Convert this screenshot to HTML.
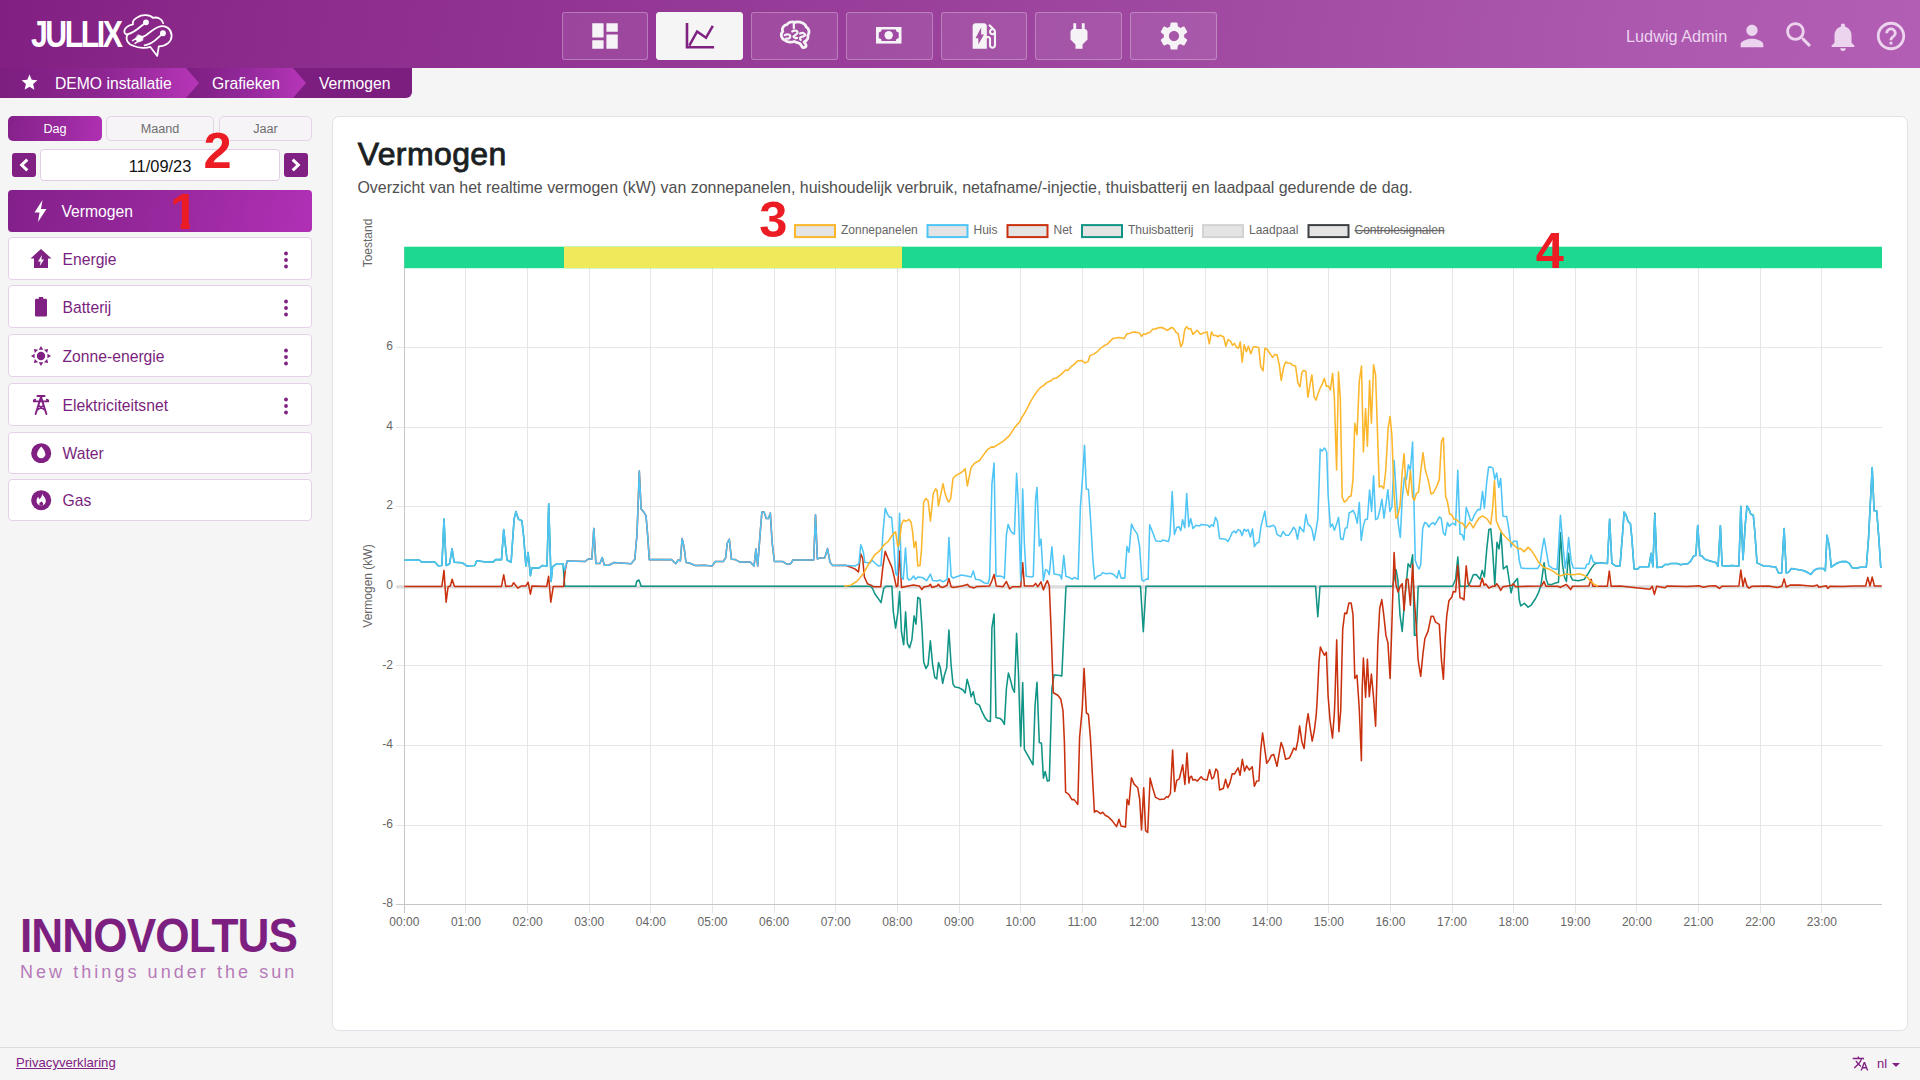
<!DOCTYPE html>
<html lang="nl">
<head>
<meta charset="utf-8">
<title>JULLIX - Vermogen</title>
<style>
*{box-sizing:border-box;margin:0;padding:0}
html,body{width:1920px;height:1080px;overflow:hidden;background:#f5f5f5;font-family:"Liberation Sans",sans-serif;color:#212529}
.abs{position:absolute}
svg{display:block}
/* ---------- header ---------- */
#hdr{position:absolute;left:0;top:0;width:1920px;height:68px;background:linear-gradient(100deg,#812082 0%,#892889 9.400%,#923493 29%,#a14ba3 64.600%,#ad58af 84.400%,#b25eb4 100%)}
#logo{position:absolute;left:31px;top:13.300px;height:44px;color:#fff;font-weight:bold;font-size:36.500px;letter-spacing:-3px;line-height:44px;transform-origin:0 0;transform:scaleX(.83)}
.nb{position:absolute;top:12px;width:87px;height:48px;border:1px solid rgba(255,255,255,.28);border-radius:3px;background:rgba(255,255,255,.085)}
.nb.act{background:#f5f5f5;border-color:#f5f5f5}
.nb svg{position:absolute;left:50%;top:50%;transform:translate(-50%,-50%)}
#user{position:absolute;left:1626px;top:26px;font-size:16.27px;color:#ecd3ee;line-height:20px;white-space:nowrap}
/* ---------- breadcrumb ---------- */
#bc{position:absolute;left:0;top:68px;height:30px;width:412px}
#bc .t{position:absolute;top:.5px;height:29px;line-height:29px;color:#fff;font-size:15.7px;white-space:nowrap}
/* ---------- sidebar ---------- */
.tab{position:absolute;top:116px;height:25px;border-radius:5px;font-size:12.65px;line-height:24px;text-align:center;border:1px solid #e6d3e9;color:#6e6e6e;background:#f6f4f6}
.tab.act{background:linear-gradient(100deg,#85218a 0%,#9b2aa0 60%,#b030b3 100%);border:none;color:#fff;line-height:27px}
.arr{position:absolute;top:153px;width:24px;height:24px;border-radius:3px;background:#7f2082}
#date{position:absolute;left:40px;top:149px;width:240px;height:32px;border:1px solid #e3cde6;border-radius:4px;background:#fff;text-align:center;font-size:16.4px;line-height:33px;color:#111}
.mi{position:absolute;left:8px;width:304px;border:1px solid #e6d0e9;border-radius:4px;background:#fff;color:#7a1f7d;font-size:15.7px}
.mi.act{background:linear-gradient(100deg,#83208a 0%,#95279b 45%,#b030b5 100%);border:none;color:#fff}
.mi .lbl{position:absolute;left:53.5px;top:.7px;white-space:nowrap}
.mi .ic{position:absolute}
.mi .dots{position:absolute;left:273px;width:8px}
.red{position:absolute;color:#ec1c24;font-weight:bold;font-size:50.600px;line-height:51px;font-family:"Liberation Sans",sans-serif}
/* ---------- main ---------- */
#main{position:absolute;left:332px;top:116px;width:1576px;height:915px;background:#fff;border:1px solid #dfe2e8;border-radius:7px}
#h1{position:absolute;left:357.700px;top:134px;font-size:32px;font-weight:normal;-webkit-text-stroke:.85px #1b1f23;letter-spacing:.4px;line-height:40px;color:#1b1f23;white-space:nowrap}
#desc{position:absolute;left:357.400px;top:177.800px;font-size:15.96px;line-height:20px;color:#505050;white-space:nowrap}
/* ---------- footer ---------- */
#ftl{position:absolute;left:0;top:1047px;width:1920px;height:1px;background:#dcdcdc}
#priv{position:absolute;left:16px;top:1055px;font-size:13.1px;line-height:16px;color:#7f2082;text-decoration:underline}
#lang{position:absolute;left:1877px;top:1056.300px;font-size:13px;line-height:16px;color:#7f2082}
#inno{position:absolute;left:20px;top:908.700px;color:#7d1f80;font-weight:bold;white-space:nowrap;font-size:47.5px;line-height:54px;letter-spacing:-1px;transform-origin:0 0;transform:scaleX(.93)}
#inno2{position:absolute;left:20px;top:960.500px;color:#b57ab8;white-space:nowrap;font-size:18px;line-height:22px;letter-spacing:3.05px}
</style>
</head>
<body>
<div id="hdr">
  <div id="logo">JULLIX</div>
  <!-- brain/cloud logo mark -->
  <svg class="abs" style="left:123.100px;top:13.900px" width="49.700" height="42.700" viewBox="1100 95 530 455" fill="none" stroke="#fff" stroke-width="19" stroke-linecap="round" stroke-linejoin="round">
    <path d="M1528 192C1518 150 1468 122 1420 136C1388 100 1300 96 1256 130C1216 150 1200 180 1206 206C1150 216 1106 252 1116 290C1122 310 1136 316 1152 310C1200 300 1250 262 1292 226L1330 196"/>
    <path d="M1150 314C1120 360 1150 420 1216 436C1270 460 1350 460 1392 446L1465 542L1482 440C1560 438 1624 390 1618 320C1614 252 1560 216 1500 226C1440 236 1400 282 1350 318L1300 344"/>
    <path d="M1508 318L1478 344C1440 382 1384 420 1330 430"/>
    <circle cx="1345" cy="184" r="31" fill="#fff" stroke="none"/>
    <circle cx="1526" cy="300" r="31" fill="#fff" stroke="none"/>
    <path d="M1262 318l52 18-4 40-42 18-36-28z" fill="#fff" stroke="#fff" stroke-width="8"/>
    <path d="M1246 352l-44 26M1268 382l-40 26" stroke-width="15"/>
  </svg>
  <!-- nav buttons -->
  <div class="nb" style="left:562px;width:86px"><svg style="margin-left:-.5px" width="34" height="34" viewBox="0 0 24 24" fill="#f5f3f5"><path d="M3 13h8V3H3v10zm0 8h8v-6H3v6zm10 0h8V11h-8v10zm0-18v6h8V3h-8z"/></svg></div>
  <div class="nb act" style="left:656px"><svg style="left:28px;top:9px;transform:none" width="30" height="28" viewBox="0 0 30 28" fill="none" stroke="#7f2082" stroke-width="2.600" stroke-linejoin="miter"><path d="M2 .900V25.200H29.100"/><path d="M4.300 23.600L12.100 9.500 21 15.800 27.800 3.800" stroke-width="2.500"/></svg></div>
  <div class="nb" style="left:751px"><svg style="left:26.750px;top:7.300px;transform:none" width="31.900" height="30" viewBox="200 110 340 320" fill="none" stroke="#f5f3f5" stroke-width="30" stroke-linecap="round" stroke-linejoin="round"><path d="M372 134C330 120 292 140 286 160C250 160 226 200 240 232C212 262 224 312 262 326C290 352 340 350 362 338C384 350 410 352 424 362L448 398C470 414 496 396 486 372L468 344C500 330 516 300 506 276C530 246 520 196 490 184C484 150 430 122 372 134z"/><path d="M358 140v56M262 272c20-14 52-12 58 10c4 20-20 32-44 26M342 232c20-16 56-10 56 12c0 20-30 22-44 44c12 16 30 18 40 12M424 254c22-12 52-6 54 14c0 18-28 20-46 24c-10 10-10 22 0 30" stroke-width="24"/></svg></div>
  <div class="nb" style="left:846px"><svg style="left:29.100px;top:14.300px;transform:none" width="25.500" height="16.600" viewBox="0 0 25.500 16.600"><rect width="25.500" height="16.600" fill="#f5f3f5"/><path d="M5.600 2.600H19.900A2.800 2.800 0 0 0 22.700 5.400V11.200A2.800 2.800 0 0 0 19.900 14H5.600A2.800 2.800 0 0 0 2.800 11.200V5.400A2.800 2.800 0 0 0 5.600 2.600z" fill="#a04aa3"/><circle cx="12.700" cy="8.300" r="4.200" fill="#f5f3f5"/></svg></div>
  <div class="nb" style="left:941px;width:86px"><svg width="34" height="34" viewBox="0 0 24 24" fill="#f5f3f5"><path d="M19.770 7.230l.01-.010-3.720-3.720L15 4.560l2.110 2.110c-.94.36-1.610 1.260-1.610 2.330 0 1.380 1.120 2.500 2.500 2.500.36 0 .69-.08 1-.21v7.210c0 .55-.45 1-1 1s-1-.45-1-1V14c0-1.100-.9-2-2-2h-1V5c0-1.100-.9-2-2-2H6c-1.100 0-2 .9-2 2v16h10v-7.500h1.500v5c0 1.380 1.120 2.500 2.500 2.500s2.500-1.120 2.500-2.500V9c0-.69-.28-1.320-.73-1.770zM18 10c-.55 0-1-.45-1-1s.45-1 1-1 1 .45 1 1-.45 1-1 1zM8 18v-4.500H6L10 6v5h2l-4 7z"/></svg></div>
  <div class="nb" style="left:1035px"><svg width="34" height="34" viewBox="0 0 24 24" fill="#f5f3f5"><path d="M16.010 7L16 3h-2v4h-4V3H8v4h-.010C7 6.990 6 7.990 6 8.990v5.490L9.500 18v3h5v-3l3.500-3.510v-5.500c0-1-1-2-1.990-1.990z"/></svg></div>
  <div class="nb" style="left:1130px"><svg width="34" height="34" viewBox="0 0 24 24" fill="#f5f3f5"><path d="M19.140 12.940c.04-.3.06-.61.06-.94 0-.32-.02-.64-.07-.94l2.030-1.580c.18-.14.23-.41.12-.61l-1.920-3.320c-.12-.22-.37-.29-.59-.22l-2.390.96c-.5-.38-1.030-.7-1.620-.94l-.36-2.540c-.04-.24-.24-.41-.48-.41h-3.840c-.24 0-.43.17-.47.41l-.36 2.540c-.59.24-1.130.57-1.620.94l-2.390-.96c-.22-.08-.47 0-.59.22L2.740 8.870c-.12.21-.08.47.12.61l2.030 1.580c-.05.3-.09.63-.09.94s.02.64.07.94l-2.030 1.580c-.18.14-.23.41-.12.61l1.920 3.320c.12.22.37.29.59.22l2.390-.96c.5.38 1.030.7 1.620.94l.36 2.540c.05.24.24.41.48.41h3.840c.24 0 .44-.17.47-.41l.36-2.540c.59-.24 1.130-.56 1.620-.94l2.390.96c.22.08.47 0 .59-.22l1.920-3.320c.12-.22.07-.47-.12-.61l-2.010-1.580zM12 15.600c-1.980 0-3.600-1.620-3.600-3.600s1.620-3.600 3.600-3.600 3.600 1.620 3.600 3.600-1.620 3.600-3.600 3.600z"/></svg></div>
  <!-- right side -->
  <div id="user">Ludwig Admin</div>
  <svg class="abs" style="left:1735px;top:19px" width="34" height="34" viewBox="0 0 24 24" fill="#ecd3ee"><path d="M12 12c2.210 0 4-1.790 4-4s-1.790-4-4-4-4 1.790-4 4 1.790 4 4 4zm0 2c-2.670 0-8 1.340-8 4v2h16v-2c0-2.660-5.330-4-8-4z"/></svg>
  <svg class="abs" style="left:1782px;top:18px" width="34" height="34" viewBox="0 0 24 24" fill="#ecd3ee"><path d="M15.500 14h-.79l-.28-.27C15.410 12.590 16 11.110 16 9.500 16 5.910 13.090 3 9.500 3S3 5.910 3 9.500 5.910 16 9.500 16c1.610 0 3.090-.59 4.230-1.570l.27.28v.79l5 4.990L20.490 19l-4.990-5zm-6 0C7.010 14 5 11.990 5 9.500S7.010 5 9.500 5 14 7.010 14 9.500 11.990 14 9.500 14z"/></svg>
  <svg class="abs" style="left:1826px;top:20px" width="34" height="34" viewBox="0 0 24 24" fill="#ecd3ee"><path d="M12 22c1.100 0 2-.9 2-2h-4c0 1.100.89 2 2 2zm6-6v-5c0-3.070-1.640-5.640-4.500-6.320V4c0-.83-.67-1.500-1.500-1.500s-1.500.67-1.500 1.500v.68C7.630 5.360 6 7.920 6 11v5l-2 2v1h16v-1l-2-2z"/></svg>
  <svg class="abs" style="left:1874px;top:19px" width="34" height="34" viewBox="0 0 24 24" fill="#ecd3ee"><path d="M11 18h2v-2h-2v2zm1-16C6.480 2 2 6.480 2 12s4.480 10 10 10 10-4.480 10-10S17.520 2 12 2zm0 18c-4.410 0-8-3.590-8-8s3.590-8 8-8 8 3.590 8 8-3.590 8-8 8zm0-14c-2.210 0-4 1.790-4 4h2c0-1.100.9-2 2-2s2 .9 2 2c0 2-3 1.750-3 5h2c0-2.250 3-2.500 3-5 0-2.210-1.790-4-4-4z"/></svg>
</div>

<div id="bc">
  <svg class="abs" style="left:0;top:0" width="412" height="30" viewBox="0 0 412 30">
    <defs>
      <linearGradient id="bg1" x1="0" x2="1" y1="0" y2="0"><stop offset="0" stop-color="#7c1e7f"/><stop offset=".55" stop-color="#8f2693"/><stop offset="1" stop-color="#b636b8"/></linearGradient>
      <linearGradient id="bg2" x1="0" x2="1" y1="0" y2="0"><stop offset="0" stop-color="#7c1e7f"/><stop offset=".5" stop-color="#93289a"/><stop offset="1" stop-color="#b636b8"/></linearGradient>
    </defs>
    <path d="M0 0H412V24a6 6 0 0 1-6 6H0z" fill="#7c1e7f"/>
    <path d="M184 0H293l13 15-13 15H184z" fill="url(#bg2)"/>
    <path d="M0 0H186l13 15-13 15H0z" fill="url(#bg1)"/>
  </svg>
  <svg class="abs" style="left:20.200px;top:5.400px" width="19" height="19" viewBox="0 0 24 24" fill="#fff"><path d="M12 17.270L18.180 21l-1.640-7.030L22 9.240l-7.190-.61L12 2 9.190 8.630 2 9.240l5.460 4.730L5.820 21z"/></svg>
  <div class="t" id="bc1" style="left:55px">DEMO installatie</div>
  <div class="t" id="bc2" style="left:212px">Grafieken</div>
  <div class="t" id="bc3" style="left:319px">Vermogen</div>
</div>

<div class="tab act" style="left:8px;width:94px">Dag</div>
<div class="tab" style="left:106px;width:108px">Maand</div>
<div class="tab" style="left:219px;width:93px">Jaar</div>
<div class="arr" style="left:12px"><svg width="24" height="24" viewBox="0 0 24 24" fill="none" stroke="#fff" stroke-width="3" stroke-linecap="butt"><path d="M15.300 6.700l-5.600 5.300 5.600 5.300"/></svg></div>
<div id="date">11/09/23</div>
<div class="arr" style="left:284px"><svg width="24" height="24" viewBox="0 0 24 24" fill="none" stroke="#fff" stroke-width="3" stroke-linecap="butt"><path d="M8.700 6.700l5.600 5.300-5.600 5.300"/></svg></div>

<div class="mi act" style="top:190px;height:42px;line-height:42px">
  <svg class="ic" style="left:22px;top:9px" width="22" height="24" viewBox="0 0 22 24" fill="#fff"><path d="M12.500 1L4.500 13.500h5L8 23l8.500-13h-5.500z"/></svg>
  <span class="lbl">Vermogen</span>
</div>
<div class="mi" style="top:237px;height:43px;line-height:41px">
  <svg class="ic" style="left:20px;top:10px" width="24" height="22" viewBox="0 0 24 22" fill="#7f2082"><path d="M12 1L1.500 10.500H5V20h14v-9.500h3.500z"/><path d="M13 7l-4 6.500h2.600l-.8 4.500 4.200-6.500h-2.700z" fill="#fff"/></svg>
  <span class="lbl">Energie</span>
  <svg class="dots" style="top:12.500px" height="18" viewBox="0 0 8 18" fill="#7f2082"><circle cx="4" cy="2.500" r="1.900"/><circle cx="4" cy="9" r="1.900"/><circle cx="4" cy="15.500" r="1.900"/></svg>
</div>
<div class="mi" style="top:285.300px;height:43px;line-height:41px">
  <svg class="ic" style="left:26px;top:10.600px" width="12" height="20" viewBox="0 0 14 22" preserveAspectRatio="none" fill="#7f2082"><path d="M4.500 0h5v2H12.500a1.500 1.500 0 0 1 1.500 1.500V20a1.500 1.500 0 0 1-1.500 1.500H1.500A1.500 1.500 0 0 1 0 20V3.500A1.500 1.500 0 0 1 1.500 2H4.500z"/></svg>
  <span class="lbl">Batterij</span>
  <svg class="dots" style="top:12.500px" height="18" viewBox="0 0 8 18" fill="#7f2082"><circle cx="4" cy="2.500" r="1.900"/><circle cx="4" cy="9" r="1.900"/><circle cx="4" cy="15.500" r="1.900"/></svg>
</div>
<div class="mi" style="top:334.200px;height:43px;line-height:41px">
  <svg class="ic" style="left:22px;top:11px" width="20" height="20" viewBox="0 0 22 22" fill="#7f2082"><circle cx="11" cy="11" r="4.600"/><path d="M11 0l2.500 4h-5zM11 22l2.500-4h-5zM0 11l4-2.500v5zM22 11l-4-2.500v5zM3.200 3.200l4.600 1-3.600 3.600zM18.800 3.200l-4.600 1 3.600 3.600zM3.200 18.800l4.600-1-3.600-3.600zM18.800 18.800l-4.600-1 3.600-3.600z"/></svg>
  <span class="lbl">Zonne-energie</span>
  <svg class="dots" style="top:12.500px" height="18" viewBox="0 0 8 18" fill="#7f2082"><circle cx="4" cy="2.500" r="1.900"/><circle cx="4" cy="9" r="1.900"/><circle cx="4" cy="15.500" r="1.900"/></svg>
</div>
<div class="mi" style="top:383.100px;height:43px;line-height:41px">
  <svg class="ic" style="left:23px;top:10px" width="18" height="22" viewBox="0 0 20 24" fill="none" stroke="#7f2082" stroke-width="2.100" stroke-linecap="round" stroke-linejoin="round"><path d="M4 22L10 3l6 19M6 2h8M2 8h16M2 8c0-1 .5-2 1.500-2M18 8c0-1-.5-2-1.500-2M7 12.500l7.500 5M13 12.500l-7.500 5"/></svg>
  <span class="lbl">Elektriciteitsnet</span>
  <svg class="dots" style="top:12.500px" height="18" viewBox="0 0 8 18" fill="#7f2082"><circle cx="4" cy="2.500" r="1.900"/><circle cx="4" cy="9" r="1.900"/><circle cx="4" cy="15.500" r="1.900"/></svg>
</div>
<div class="mi" style="top:432px;height:41.500px;line-height:40px">
  <svg class="ic" style="left:22.200px;top:10px" width="20.400" height="20.400" viewBox="0 0 21 21"><circle cx="10.500" cy="10.500" r="10.300" fill="#7f2082"/><path d="M10.500 3.500c2.500 3 4.300 5.500 4.300 8a4.300 4.300 0 0 1-8.600 0c0-2.500 1.800-5 4.300-8z" fill="#fff"/></svg>
  <span class="lbl">Water</span>
</div>
<div class="mi" style="top:479.300px;height:41.500px;line-height:40px">
  <svg class="ic" style="left:22.200px;top:10px" width="20.400" height="20.400" viewBox="0 0 21 21"><circle cx="10.500" cy="10.500" r="10.300" fill="#7f2082"/><path d="M11.500 3.500c.3 2.500 3.800 4 3.800 7.800a4.800 4.800 0 0 1-9.600 0c0-1.800.8-3.200 2-4.300c0 1.200.4 2 1.200 2.300c1.600-1.500 2.600-3.300 2.600-5.800z" fill="#fff"/><path d="M10.600 11.500c1.200 1 1.900 1.700 1.900 2.800a1.950 1.950 0 0 1-3.900 0c0-.9.500-1.400 1-1.700c.5 0 .9-.4 1-1.100z" fill="#7f2082"/></svg>
  <span class="lbl">Gas</span>
</div>

<div class="red" id="r2" style="left:203.500px;top:125px">2</div>
<div class="red" id="r1" style="left:169.900px;top:185.500px;clip-path:polygon(0 0,31px 0,31px 36.700px,19.700px 36.700px,19.700px 51px,10.800px 51px,10.800px 36.700px,0 36.700px)">1</div>

<div id="inno">INNOVOLTUS</div>
<div id="inno2">New things under the sun</div>

<div id="main"></div>
<div id="h1">Vermogen</div>
<div id="desc">Overzicht van het realtime vermogen (kW) van zonnepanelen, huishoudelijk verbruik, netafname/-injectie, thuisbatterij en laadpaal gedurende de dag.</div>
<svg class="abs" style="left:0;top:0" width="1920" height="1080" viewBox="0 0 1920 1080" font-family="Liberation Sans, sans-serif" font-size="12" fill="#666">
<path d="M404.3 267.9V912.7M465.9 267.9V912.7M527.6 267.9V912.7M589.2 267.9V912.7M650.8 267.9V912.7M712.5 267.9V912.7M774.1 267.9V912.7M835.7 267.9V912.7M897.3 267.9V912.7M959.0 267.9V912.7M1020.6 267.9V912.7M1082.2 267.9V912.7M1143.9 267.9V912.7M1205.5 267.9V912.7M1267.1 267.9V912.7M1328.8 267.9V912.7M1390.4 267.9V912.7M1452.0 267.9V912.7M1513.6 267.9V912.7M1575.3 267.9V912.7M1636.9 267.9V912.7M1698.5 267.9V912.7M1760.2 267.9V912.7M1821.8 267.9V912.7" stroke="#e6e6e6" stroke-width="1" fill="none" shape-rendering="crispEdges"/>
<path d="M396.3 904.7H1882.0M396.3 825.1H1882.0M396.3 745.5H1882.0M396.3 665.9H1882.0M396.3 586.3H1882.0M396.3 506.7H1882.0M396.3 427.1H1882.0M396.3 347.5H1882.0" stroke="#e6e6e6" stroke-width="1" fill="none" shape-rendering="crispEdges"/>
<path d="M396.3 586.8H1882.0" stroke="#dcdcdc" stroke-width="3.200" fill="none"/>
<path d="M404.3 247V912.7M396.3 904.7H1882.0" stroke="#c6c6c6" stroke-width="1" fill="none" shape-rendering="crispEdges"/>
<rect x="404.3" y="246.7" width="1477.7" height="21.5" fill="#1cd98f"/>
<rect x="564" y="246.7" width="338" height="21.5" fill="#efe95b"/>
<path d="M404.3,560.3 404.9,560.3 419.3,560.0 421.5,561.9 434.8,561.9 438.2,565.8 441.9,565.5 444.0,519.0 446.2,565.5 449.6,563.7 452.1,548.9 454.1,562.2 462.2,562.7 466.7,565.9 474.8,565.5 476.7,560.7 485.9,561.9 493.3,561.9 495.6,559.6 501.5,559.6 503.7,529.6 507.0,560.0 511.1,562.2 514.1,519.3 515.9,511.6 518.5,519.3 521.9,520.7 523.7,537.0 525.9,565.9 528.1,552.6 530.4,575.6 531.9,567.9 539.3,567.9 542.2,565.5 547.0,565.9 548.7,503.7 551.1,581.5 552.6,566.7 557.0,563.7 563.0,563.7 564.7,586.3 635.6,586.3 636.7,581.5 638.9,580.0 640.1,583.0 641.1,586.3 870.4,586.3 872.6,588.5 874.8,593.7 878.5,598.9 881.0,602.6 883.7,588.5 885.9,586.3 891.9,586.3 893.3,611.5 895.6,628.1 897.8,613.0 899.6,591.5 901.5,632.2 903.7,644.8 905.6,611.9 907.4,643.3 909.6,647.8 911.9,639.6 914.1,615.9 916.0,624.1 917.8,597.4 920.0,598.9 921.9,626.3 923.7,661.9 925.9,668.5 928.1,664.8 930.4,640.8 932.6,664.8 934.8,677.4 936.7,678.9 938.5,662.6 940.3,667.8 942.7,683.3 944.4,675.2 946.7,667.8 948.9,630.0 951.1,664.8 953.0,684.1 955.1,687.0 959.3,687.8 963.0,690.0 965.2,693.0 967.1,679.3 969.3,687.0 971.1,696.7 973.3,691.8 975.6,703.3 979.3,705.1 982.2,712.2 985.2,718.1 988.1,721.1 990.4,721.4 991.9,627.8 994.1,614.1 996.0,717.4 1000.0,718.4 1002.2,720.4 1004.4,724.4 1006.4,688.5 1008.4,673.0 1010.4,679.6 1012.6,688.5 1014.4,692.2 1016.6,633.4 1018.5,673.7 1020.7,746.3 1022.7,682.6 1024.4,749.3 1028.9,757.4 1033.0,764.8 1035.1,704.8 1037.0,682.3 1039.3,742.6 1041.5,743.3 1043.4,778.1 1045.2,771.5 1047.4,781.1 1049.3,780.4 1051.1,719.6 1051.9,688.5 1054.1,674.9 1060.0,675.5 1061.8,676.0 1066.0,586.3 1140.5,586.3 1143.3,631.8 1146.0,586.3 1315.6,586.3 1317.8,616.7 1320.0,586.3 1392.6,586.2 1394.1,579.3 1396.0,569.6 1397.8,579.3 1400.0,614.8 1402.2,631.4 1404.4,603.0 1406.7,579.3 1408.1,563.7 1410.4,567.4 1412.6,554.8 1414.4,635.3 1416.3,635.3 1418.2,586.2 1452.6,586.2 1455.6,579.3 1457.8,557.0 1460.0,586.2 1468.1,586.2 1470.4,582.2 1473.3,574.8 1476.3,574.5 1480.0,579.3 1482.2,570.4 1484.4,577.0 1486.7,549.6 1488.9,529.6 1490.8,528.9 1492.6,549.6 1494.8,585.2 1497.0,542.2 1499.0,548.9 1501.0,532.6 1503.3,568.9 1507.0,565.9 1508.9,578.5 1511.1,592.9 1513.3,583.7 1515.6,580.7 1517.5,578.5 1519.3,600.0 1520.7,605.9 1524.4,603.3 1528.1,607.1 1531.1,605.2 1535.6,598.5 1538.5,592.6 1540.7,586.2 1542.2,576.3 1544.1,562.7 1546.2,579.3 1548.1,584.4 1551.9,584.4 1555.6,583.0 1558.5,582.2 1560.4,532.6 1562.5,564.4 1564.4,577.0 1566.4,581.5 1568.6,553.3 1570.7,576.3 1572.6,580.0 1578.5,580.7 1584.4,579.3 1587.4,574.8 1590.4,569.6 1594.1,564.4 1597.0,563.0 1602.2,563.0 1607.4,563.4 1609.6,519.3 1611.9,563.4 1615.6,565.9 1620.0,565.9 1622.2,538.5 1624.1,512.1 1625.9,514.8 1628.1,521.5 1630.4,523.7 1631.9,538.5 1634.1,568.9 1637.8,568.9 1640.0,566.7 1648.9,566.7 1651.1,553.3 1652.9,566.7 1654.8,513.3 1657.0,567.4 1662.2,567.0 1665.2,564.4 1668.9,564.4 1671.1,563.4 1677.0,563.4 1680.0,564.4 1680.4,564.8 1684.8,564.1 1687.8,563.8 1690.7,561.1 1693.7,555.9 1695.9,555.2 1697.7,525.6 1699.9,555.5 1701.9,555.9 1704.8,559.3 1709.3,560.8 1713.7,561.9 1715.9,562.6 1718.1,566.3 1720.4,525.9 1722.1,565.6 1727.0,566.3 1731.5,565.6 1738.9,565.9 1740.8,506.3 1743.0,559.6 1745.3,524.1 1747.0,506.0 1749.0,509.3 1750.7,514.0 1753.3,515.2 1754.9,533.0 1757.0,562.9 1759.6,564.1 1764.1,566.3 1768.5,566.3 1775.9,567.0 1778.6,573.3 1781.6,573.0 1784.1,528.5 1786.3,573.0 1788.5,572.2 1791.5,568.5 1795.9,569.3 1800.4,570.0 1804.1,570.7 1807.0,572.2 1810.7,574.4 1814.4,570.0 1818.1,568.5 1823.3,568.5 1825.3,570.7 1827.0,535.2 1829.3,546.3 1831.2,567.0 1836.7,563.3 1841.9,561.6 1846.3,561.6 1849.3,563.3 1852.2,567.8 1855.9,568.2 1860.4,567.3 1866.3,567.3 1868.5,538.9 1870.4,501.9 1872.2,467.5 1874.1,510.7 1876.7,510.7 1878.9,538.9 1880.7,567.3 1881.7,567.3" fill="none" stroke="#109485" stroke-width="1.55" stroke-linejoin="round" stroke-linecap="butt"/>
<path d="M404.3,586.4 404.9,586.4 441.9,586.4 444.0,570.4 446.1,602.2 448.1,586.7 450.4,585.9 452.1,579.3 454.5,586.4 501.5,586.4 503.7,574.8 505.8,586.4 511.9,585.9 513.6,582.7 515.6,585.2 517.8,588.1 521.5,585.9 525.9,585.9 528.1,582.2 530.4,594.1 532.1,585.9 546.7,586.4 548.6,576.3 550.8,602.2 553.3,586.4 563.7,586.4 565.2,570.4 567.1,561.0 585.2,561.5 588.1,559.0 591.9,559.0 593.8,528.4 595.9,563.4 600.0,563.4 602.2,557.5 604.4,565.2 608.9,565.2 614.1,562.5 631.1,563.7 634.8,559.3 637.0,534.1 639.3,471.1 641.1,508.9 644.1,512.6 646.0,515.6 647.8,537.0 649.3,559.6 671.5,559.6 675.9,563.7 678.1,560.0 680.4,560.7 682.1,538.5 684.1,547.4 686.0,562.5 689.3,563.0 695.2,565.5 704.1,565.2 712.2,565.9 715.2,561.5 723.3,561.5 725.6,557.8 727.3,543.0 729.3,539.3 731.5,559.3 735.2,559.6 739.6,561.9 750.0,561.9 754.1,565.9 755.9,548.9 757.7,565.9 760.1,534.1 761.9,511.9 764.1,511.9 766.3,518.5 768.5,518.5 770.3,513.0 772.2,543.0 774.4,561.5 782.6,561.5 787.0,564.1 790.7,563.7 793.0,560.0 813.7,560.0 815.5,514.8 817.4,559.0 819.6,558.1 824.8,557.8 827.5,548.6 830.0,562.2 832.7,565.5 845.2,565.2 849.6,566.7 854.8,568.9 858.5,571.9 860.7,553.8 862.7,558.5 864.4,577.0 867.4,583.7 870.4,584.9 873.3,586.7 880.7,586.7 883.0,565.9 885.2,551.4 887.4,557.0 891.9,567.4 894.1,576.3 896.3,586.7 897.8,585.9 899.6,551.1 901.5,587.4 905.9,586.4 913.3,584.9 919.3,585.9 921.9,589.6 923.7,587.0 928.9,585.9 930.4,584.4 931.9,587.4 937.0,585.9 938.5,584.4 940.3,586.7 943.0,587.4 947.1,585.2 948.9,578.5 951.1,586.7 953.3,587.4 962.2,585.9 967.4,584.4 969.6,586.7 974.1,587.9 977.0,586.4 989.6,585.9 991.9,580.7 994.1,574.5 996.3,585.9 1003.0,586.7 1006.4,581.5 1009.6,588.9 1012.6,586.7 1020.7,586.7 1022.7,562.7 1024.4,585.9 1033.3,585.9 1035.6,583.4 1037.8,586.7 1041.0,581.9 1043.4,589.9 1045.5,584.4 1047.4,580.7 1049.3,585.9 1051.1,629.3 1053.3,692.7 1057.8,695.2 1060.7,698.9 1063.0,710.7 1064.4,741.9 1065.6,792.2 1068.9,794.4 1071.9,799.6 1074.1,799.6 1077.8,804.4 1079.6,737.4 1082.2,709.3 1084.1,668.4 1086.4,713.0 1088.4,714.4 1090.4,737.4 1092.6,778.9 1094.4,812.2 1096.3,810.7 1100.7,813.7 1102.7,812.2 1105.2,815.2 1108.1,816.7 1111.9,820.4 1116.6,826.6 1119.0,819.2 1121.0,826.0 1125.5,827.0 1127.1,799.3 1128.9,804.8 1131.4,777.7 1134.1,784.1 1137.8,787.8 1139.7,799.6 1141.5,830.0 1143.7,787.8 1145.6,830.7 1147.7,832.5 1150.1,778.1 1152.6,787.8 1155.6,797.4 1160.0,799.6 1164.4,798.9 1166.4,796.7 1168.1,797.4 1170.4,793.7 1172.6,750.0 1174.7,791.5 1176.7,780.4 1179.3,778.9 1182.7,764.8 1184.9,784.5 1187.0,753.0 1188.9,783.0 1190.0,777.4 1191.5,776.2 1193.0,780.1 1195.2,779.6 1197.4,781.1 1201.1,776.7 1203.3,779.3 1207.0,780.1 1209.6,769.7 1211.9,778.9 1213.7,777.4 1215.9,769.0 1217.7,771.2 1219.6,790.0 1223.3,788.5 1225.6,779.3 1227.8,787.8 1230.0,782.6 1232.2,773.7 1234.4,774.1 1238.1,767.8 1240.1,775.2 1242.3,759.3 1244.5,771.2 1246.6,765.9 1249.3,770.0 1252.2,766.7 1254.4,786.3 1256.7,781.1 1258.9,780.7 1260.8,749.3 1262.6,733.0 1264.8,749.3 1266.7,763.3 1269.3,759.6 1271.5,755.2 1273.7,754.4 1277.0,766.3 1278.9,755.2 1281.1,742.6 1283.3,748.5 1285.6,759.3 1289.3,758.1 1291.5,753.7 1293.7,748.1 1295.9,750.0 1297.9,740.4 1299.6,725.9 1301.9,741.9 1304.1,748.5 1306.3,725.6 1308.1,713.7 1310.0,727.0 1312.2,741.1 1314.4,730.0 1316.2,715.2 1317.0,703.3 1319.0,661.9 1320.4,647.0 1322.2,651.2 1324.4,655.2 1326.4,652.2 1328.1,695.9 1330.0,719.6 1332.5,738.1 1334.4,712.2 1334.8,703.3 1336.7,639.9 1338.3,712.0 1338.9,731.8 1340.7,710.7 1342.7,629.3 1344.7,613.0 1346.7,613.7 1348.9,602.9 1351.1,602.9 1353.0,614.4 1354.8,678.4 1357.0,675.2 1359.3,709.3 1361.4,760.8 1362.2,688.5 1363.4,658.1 1365.6,697.4 1367.4,659.3 1369.3,696.7 1371.4,674.1 1373.3,694.4 1375.6,726.3 1377.8,644.1 1379.7,608.5 1381.8,599.6 1383.7,614.4 1385.9,635.2 1387.9,642.6 1390.1,678.5 1391.9,623.7 1394.1,552.6 1396.0,585.2 1398.1,591.9 1400.0,586.7 1402.2,583.7 1404.1,610.4 1406.2,579.3 1408.1,579.3 1410.4,605.2 1412.6,564.4 1414.4,600.0 1416.3,626.7 1418.2,660.7 1420.7,676.3 1423.0,653.3 1424.9,638.5 1428.1,631.1 1431.1,616.3 1433.3,616.3 1435.6,622.2 1439.3,624.4 1441.5,660.7 1443.4,679.3 1445.2,638.5 1446.7,616.3 1448.9,600.7 1451.9,597.0 1453.3,591.4 1455.6,591.9 1457.8,565.2 1460.0,597.8 1462.2,598.2 1464.0,600.0 1466.2,565.9 1468.1,583.7 1470.4,586.2 1480.0,586.2 1482.2,578.2 1484.1,585.2 1485.9,584.0 1488.9,588.1 1492.6,586.2 1494.8,586.2 1496.7,583.7 1498.5,586.2 1500.7,590.4 1503.0,586.7 1511.9,585.2 1513.3,583.7 1515.6,586.7 1528.1,586.2 1541.5,585.9 1544.0,581.5 1545.9,586.2 1557.8,586.2 1560.4,587.4 1562.5,586.2 1566.4,584.4 1568.4,586.7 1570.7,589.6 1572.6,586.2 1588.9,585.9 1591.1,579.3 1592.9,586.2 1607.4,586.2 1609.3,571.1 1611.1,586.2 1620.0,585.9 1650.0,589.3 1652.2,586.3 1654.4,594.4 1656.7,586.3 1664.8,587.8 1667.0,586.0 1687.0,586.6 1698.9,585.7 1703.3,587.2 1709.3,586.0 1715.2,585.7 1719.6,588.5 1721.9,586.3 1738.9,586.0 1740.8,570.0 1743.0,586.3 1744.8,578.1 1747.0,586.3 1749.0,588.1 1752.2,586.3 1768.5,586.0 1777.4,587.5 1781.9,586.3 1784.1,578.9 1786.3,587.0 1790.0,585.1 1799.6,585.1 1813.0,586.3 1817.4,585.1 1818.9,587.2 1826.3,585.7 1827.8,588.5 1830.0,586.3 1842.6,586.6 1854.4,586.0 1865.6,586.0 1867.8,577.4 1870.0,586.0 1872.2,577.1 1874.4,586.0 1880.7,586.0 1881.7,586.0" fill="none" stroke="#c9310e" stroke-width="1.55" stroke-linejoin="round" stroke-linecap="butt"/>
<path d="M404.3,560.3 404.9,560.3 419.3,560.0 421.5,561.9 434.8,561.9 438.2,565.8 441.9,565.5 444.0,519.0 446.2,565.5 449.6,563.7 452.1,548.9 454.1,562.2 462.2,562.7 466.7,565.9 474.8,565.5 476.7,560.7 485.9,561.9 493.3,561.9 495.6,559.6 501.5,559.6 503.7,529.6 507.0,560.0 511.1,562.2 514.1,519.3 515.9,511.6 518.5,519.3 521.9,520.7 523.7,537.0 525.9,565.9 528.1,552.6 530.4,575.6 531.9,567.9 539.3,567.9 542.2,565.5 547.0,565.9 548.7,503.7 551.1,581.5 552.6,566.7 557.0,563.7 563.0,563.7 564.7,570.4 567.1,561.0 585.2,561.5 588.1,559.0 591.9,559.0 593.8,528.4 595.9,563.4 600.0,563.4 602.2,557.5 604.4,565.2 608.9,565.2 614.1,562.5 631.1,563.7 634.8,559.3 637.0,534.1 639.3,471.1 641.1,508.9 644.1,512.6 646.0,515.6 647.8,537.0 649.3,559.6 671.5,559.6 675.9,563.7 678.1,560.0 680.4,560.7 682.1,538.5 684.1,547.4 686.0,562.5 689.3,563.0 695.2,565.5 704.1,565.2 712.2,565.9 715.2,561.5 723.3,561.5 725.6,557.8 727.3,543.0 729.3,539.3 731.5,559.3 735.2,559.6 739.6,561.9 750.0,561.9 754.1,565.9 755.9,548.9 757.7,565.9 760.1,534.1 761.9,511.9 764.1,511.9 766.3,518.5 768.5,518.5 770.3,513.0 772.2,543.0 774.4,561.5 782.6,561.5 787.0,564.1 790.7,563.7 793.0,560.0 813.7,560.0 815.5,514.8 817.4,559.0 819.6,558.1 824.8,557.8 827.5,548.6 830.0,562.2 832.7,565.5 844.8,565.2 855.2,565.9 858.9,563.7 860.8,544.7 863.3,551.9 864.8,562.2 870.0,563.0 871.9,560.0 874.8,563.0 878.5,565.9 881.0,565.6 883.0,531.9 885.2,508.4 887.4,514.1 889.6,517.3 891.6,517.3 893.3,536.3 895.6,573.3 897.3,575.6 899.6,513.3 901.5,577.0 903.3,579.3 905.5,548.1 907.4,577.8 908.9,580.0 911.1,579.3 913.6,576.0 915.6,579.3 917.8,577.0 922.2,577.5 926.7,580.7 930.4,574.1 932.6,580.4 937.0,581.0 940.0,580.0 943.0,581.9 947.1,579.3 948.9,537.5 951.1,576.3 953.3,578.1 961.5,575.1 968.1,576.3 971.1,577.0 973.3,571.1 975.6,579.3 980.0,580.0 984.4,583.0 988.1,583.4 989.6,577.8 991.9,484.4 994.1,463.0 996.0,576.3 1000.0,576.0 1003.0,577.0 1004.4,578.5 1006.4,534.8 1008.1,524.4 1010.4,530.4 1012.6,533.3 1014.4,534.1 1016.6,473.3 1018.5,506.7 1020.7,580.7 1022.7,488.9 1024.4,543.7 1026.2,576.3 1031.9,577.0 1033.3,576.3 1035.6,499.3 1037.0,487.4 1039.3,545.9 1041.0,539.0 1043.4,580.7 1045.5,569.6 1047.4,570.4 1049.3,574.8 1051.9,546.7 1054.1,574.1 1060.0,575.1 1061.6,579.0 1063.8,555.6 1065.9,576.3 1070.0,577.8 1072.2,579.3 1074.1,577.5 1078.1,579.3 1080.4,506.7 1082.6,477.0 1084.5,445.2 1086.3,488.9 1088.5,489.6 1090.7,521.5 1093.0,561.5 1094.7,579.3 1097.4,576.3 1100.8,575.1 1102.6,572.6 1105.6,573.8 1110.7,573.3 1113.7,574.5 1117.0,578.1 1118.9,570.4 1121.1,578.1 1124.8,578.1 1127.0,546.4 1129.0,552.3 1131.5,524.1 1133.7,528.9 1137.4,534.1 1139.6,546.7 1141.9,580.0 1143.8,581.0 1146.3,579.0 1148.1,579.3 1149.7,524.7 1153.0,533.3 1155.9,541.0 1161.1,541.5 1162.6,540.0 1168.5,541.5 1170.0,534.8 1172.2,491.6 1174.4,534.5 1176.7,527.4 1178.9,526.7 1180.8,530.7 1182.6,519.7 1184.8,527.7 1186.7,493.6 1188.8,526.7 1190.7,518.5 1193.0,528.6 1195.9,525.2 1199.6,525.9 1201.6,524.4 1207.8,525.2 1209.6,527.1 1211.5,524.7 1213.4,526.2 1215.5,517.3 1217.4,521.2 1219.6,538.5 1225.6,539.3 1227.8,541.5 1230.0,537.8 1232.2,532.6 1234.4,531.1 1235.9,533.0 1238.1,529.6 1240.1,530.4 1242.1,535.6 1244.1,529.2 1246.3,531.1 1248.1,529.6 1250.4,537.0 1252.5,528.9 1254.4,546.7 1256.7,543.0 1258.9,542.2 1261.1,525.9 1264.8,511.1 1266.7,526.2 1270.0,526.7 1270.4,526.3 1273.3,525.3 1275.1,527.0 1277.0,534.4 1280.7,536.7 1283.0,531.5 1285.9,535.2 1288.9,535.2 1291.1,531.8 1293.6,527.3 1295.6,530.0 1297.5,539.3 1299.7,526.7 1302.2,530.0 1303.7,531.8 1305.9,514.4 1307.9,524.1 1310.4,526.3 1312.1,530.0 1314.1,540.4 1316.0,530.0 1317.8,518.9 1319.0,487.0 1320.2,449.0 1322.0,451.0 1324.5,448.0 1326.7,452.0 1328.1,494.4 1330.4,527.0 1332.3,524.1 1334.4,530.3 1336.6,524.1 1338.5,517.4 1340.7,538.9 1343.0,539.6 1345.2,528.2 1347.1,527.8 1349.2,513.0 1351.1,511.9 1353.0,510.4 1355.1,514.4 1357.3,523.3 1359.3,502.6 1361.2,540.4 1363.4,525.6 1365.2,519.6 1367.4,519.3 1369.6,490.0 1371.6,511.5 1373.6,475.9 1375.6,519.6 1377.8,518.4 1380.0,509.3 1381.9,499.2 1384.0,518.1 1385.9,504.1 1387.9,489.7 1389.9,511.5 1391.9,507.0 1394.1,460.4 1396.3,494.4 1398.2,523.3 1400.3,537.4 1402.2,498.9 1404.4,477.4 1406.4,479.6 1408.4,464.8 1410.4,470.0 1412.6,442.0 1414.1,509.3 1415.3,560.4 1417.0,565.6 1419.0,569.0 1420.7,564.8 1422.7,528.5 1424.7,522.6 1426.7,523.3 1428.9,527.0 1431.1,523.8 1433.3,522.6 1434.8,524.8 1437.0,521.1 1439.3,517.0 1441.2,518.1 1443.4,533.0 1445.2,535.2 1447.4,522.6 1449.3,526.3 1451.4,524.1 1453.3,523.3 1455.6,525.2 1457.8,470.4 1460.0,534.1 1462.2,534.8 1464.0,540.0 1466.2,507.4 1468.1,512.6 1470.4,520.0 1471.9,520.7 1474.8,514.1 1477.8,509.6 1480.3,509.6 1482.5,491.4 1484.4,508.1 1486.7,482.2 1488.6,467.1 1491.1,467.1 1492.9,468.1 1494.8,479.3 1496.7,473.0 1498.8,487.4 1500.7,478.5 1503.0,516.3 1506.7,516.6 1508.9,529.6 1511.1,547.1 1513.3,541.2 1517.0,541.2 1519.3,560.7 1521.2,568.1 1525.9,568.4 1537.8,568.4 1540.0,564.4 1542.2,548.9 1544.1,538.2 1546.7,553.3 1548.9,565.9 1552.6,568.4 1557.0,569.6 1558.5,548.9 1560.4,515.3 1563.0,545.9 1565.2,568.1 1567.1,556.3 1568.6,537.5 1571.1,560.7 1573.3,568.1 1585.2,568.4 1586.7,564.4 1588.9,564.0 1591.1,555.1 1593.3,561.9 1597.0,563.0 1607.4,563.4 1609.6,519.3 1611.9,563.4 1615.6,565.9 1620.0,565.9 1622.2,538.5 1624.1,512.1 1625.9,514.8 1628.1,521.5 1630.4,523.7 1631.9,538.5 1634.1,568.9 1637.8,568.9 1640.0,566.7 1648.9,566.7 1651.1,553.3 1652.9,566.7 1654.8,514.8 1657.0,567.4 1662.2,567.0 1665.2,564.4 1668.9,564.4 1671.1,563.4 1677.0,563.4 1680.0,564.4 1680.4,564.8 1684.8,564.1 1687.8,563.8 1690.7,561.1 1693.7,555.9 1695.9,555.2 1697.7,525.6 1699.9,555.5 1701.9,555.9 1704.8,559.3 1709.3,560.8 1713.7,561.9 1715.9,562.6 1718.1,566.3 1720.4,525.9 1722.1,565.6 1727.0,566.3 1731.5,565.6 1738.9,565.9 1740.8,506.3 1743.0,559.6 1745.3,524.1 1747.0,506.0 1749.0,509.3 1750.7,514.0 1753.3,515.2 1754.9,533.0 1757.0,562.9 1759.6,564.1 1764.1,566.3 1768.5,566.3 1775.9,567.0 1778.6,573.3 1781.6,573.0 1784.1,528.5 1786.3,573.0 1788.5,572.2 1791.5,568.5 1795.9,569.3 1800.4,570.0 1804.1,570.7 1807.0,572.2 1810.7,574.4 1814.4,570.0 1818.1,568.5 1823.3,568.5 1825.3,570.7 1827.0,535.2 1829.3,546.3 1831.2,567.0 1836.7,563.3 1841.9,561.6 1846.3,561.6 1849.3,563.3 1852.2,567.8 1855.9,568.2 1860.4,567.3 1866.3,567.3 1868.5,538.9 1870.4,501.9 1872.2,467.5 1874.1,510.7 1876.7,510.7 1878.9,538.9 1880.7,567.3 1881.7,567.3" fill="none" stroke="#4fc5f6" stroke-width="1.55" stroke-linejoin="round" stroke-linecap="butt"/>
<path d="M844.1,586.2 850.7,585.2 856.7,581.5 860.0,577.8 864.4,571.9 868.9,563.7 874.8,554.8 879.3,551.1 883.7,545.2 888.1,541.5 892.6,534.8 895.6,531.9 897.8,546.7 899.3,543.7 901.5,524.4 903.7,520.0 905.9,521.5 908.9,519.3 911.1,522.2 912.6,531.9 914.1,547.4 916.0,541.5 917.8,565.9 920.0,565.6 921.5,549.6 923.7,502.2 925.9,498.5 928.1,500.7 930.4,521.2 933.3,493.3 935.6,488.9 937.0,490.4 938.5,505.9 940.7,494.8 943.0,483.7 945.2,494.1 947.4,500.0 948.9,501.9 950.7,498.5 953.0,478.5 955.6,475.6 960.0,473.3 963.0,471.1 965.2,468.9 967.4,485.9 971.1,467.4 974.8,463.0 979.3,460.7 983.0,455.6 987.4,449.6 991.9,446.7 993.0,447.5 997.4,444.8 1003.3,441.1 1009.3,435.9 1014.4,427.8 1019.6,421.9 1021.9,417.4 1025.6,411.5 1030.0,402.6 1034.4,395.2 1038.1,390.0 1041.1,387.0 1043.3,385.9 1046.3,382.9 1050.7,380.8 1053.7,378.4 1056.7,377.9 1061.1,374.4 1065.6,370.0 1067.8,370.4 1071.5,366.3 1074.4,364.1 1077.4,361.1 1081.9,360.4 1084.8,363.0 1088.1,361.6 1090.0,355.6 1093.7,354.1 1096.7,352.2 1101.1,347.8 1104.8,345.3 1107.0,344.4 1113.0,338.4 1118.9,337.4 1124.1,338.6 1127.0,333.7 1129.3,333.4 1132.2,332.2 1135.2,331.9 1137.4,332.5 1139.6,333.0 1141.4,336.4 1143.8,333.7 1145.6,334.4 1147.8,333.0 1149.7,332.5 1153.0,329.0 1155.9,329.0 1158.1,327.8 1161.9,327.5 1164.1,328.5 1167.0,330.4 1169.3,329.0 1171.5,327.5 1173.7,328.5 1175.9,332.2 1178.1,333.7 1180.8,346.7 1182.6,343.3 1184.8,329.3 1186.7,326.6 1188.5,329.0 1190.7,328.5 1193.0,334.4 1195.2,331.9 1197.4,330.4 1200.4,334.4 1203.3,333.0 1207.0,331.9 1209.3,343.8 1211.5,331.9 1213.4,335.5 1215.9,335.5 1218.1,336.7 1220.0,335.2 1223.7,337.0 1225.9,346.3 1228.1,339.6 1230.4,341.1 1232.6,345.3 1234.5,343.3 1236.3,347.0 1238.5,348.2 1240.3,341.9 1242.2,362.1 1244.1,344.8 1246.4,351.8 1248.4,346.3 1250.7,353.7 1253.3,347.0 1255.6,346.7 1258.8,347.8 1260.7,366.3 1263.0,371.0 1264.9,348.2 1267.1,349.3 1269.6,353.0 1272.6,357.4 1274.8,354.4 1277.0,354.7 1279.3,364.8 1281.2,380.4 1283.7,367.0 1285.6,362.1 1288.1,363.0 1290.4,363.3 1293.3,365.6 1295.6,366.0 1297.8,382.6 1300.0,387.0 1301.9,372.2 1303.7,370.4 1305.9,371.5 1307.9,397.1 1310.1,384.1 1311.9,374.9 1314.1,396.7 1316.0,400.1 1317.8,394.4 1320.0,388.5 1322.2,384.1 1324.4,378.4 1326.4,386.3 1328.4,385.9 1330.4,390.0 1332.6,373.4 1334.4,398.9 1336.6,470.0 1338.5,371.9 1340.3,398.9 1342.2,497.4 1344.4,502.1 1346.7,500.4 1348.9,496.7 1351.1,495.9 1353.0,479.6 1354.8,423.3 1357.0,434.7 1359.3,381.1 1361.5,366.0 1363.4,451.9 1365.6,408.5 1367.4,446.3 1369.6,380.4 1371.4,423.3 1373.6,364.8 1375.6,375.2 1379.3,487.0 1381.5,485.9 1383.7,488.5 1385.6,472.2 1388.1,428.5 1390.1,416.4 1391.9,435.9 1394.1,494.4 1396.0,518.4 1397.8,515.2 1400.0,506.3 1402.2,472.2 1404.1,453.7 1405.9,487.0 1408.1,495.2 1410.4,470.7 1412.6,497.4 1414.4,500.4 1416.3,493.7 1418.5,492.2 1420.7,472.2 1423.0,452.7 1425.2,469.3 1428.1,479.6 1431.1,494.1 1433.3,493.0 1437.0,485.6 1439.3,479.6 1441.5,441.1 1443.4,437.7 1444.4,464.4 1445.6,496.3 1447.4,501.5 1449.6,514.1 1451.9,514.8 1454.1,519.3 1456.3,519.6 1460.0,523.0 1462.2,523.0 1465.9,528.1 1469.6,522.2 1473.3,527.9 1476.3,522.2 1479.3,517.8 1482.2,516.0 1484.4,517.0 1487.4,519.3 1490.7,524.4 1492.6,508.9 1494.5,480.7 1496.3,520.7 1499.3,528.1 1502.2,533.3 1506.7,538.2 1511.1,542.2 1514.8,545.9 1517.8,548.6 1520.7,548.6 1524.1,551.6 1528.1,547.4 1531.1,550.1 1534.8,555.6 1538.5,562.2 1543.7,567.4 1549.6,569.3 1554.1,571.9 1557.0,574.1 1560.0,575.9 1565.9,574.1 1573.3,574.8 1579.3,573.8 1584.4,575.6 1588.1,577.8 1588.9,579.3 1593.3,583.7 1597.8,586.2" fill="none" stroke="#fcb62b" stroke-width="1.55" stroke-linejoin="round" stroke-linecap="butt"/>
<text x="393" y="907.4" text-anchor="end">-8</text>
<text x="393" y="827.8" text-anchor="end">-6</text>
<text x="393" y="748.2" text-anchor="end">-4</text>
<text x="393" y="668.6" text-anchor="end">-2</text>
<text x="393" y="589.0" text-anchor="end">0</text>
<text x="393" y="509.4" text-anchor="end">2</text>
<text x="393" y="429.8" text-anchor="end">4</text>
<text x="393" y="350.2" text-anchor="end">6</text>
<text x="404.3" y="926.300" text-anchor="middle">00:00</text>
<text x="465.9" y="926.300" text-anchor="middle">01:00</text>
<text x="527.6" y="926.300" text-anchor="middle">02:00</text>
<text x="589.2" y="926.300" text-anchor="middle">03:00</text>
<text x="650.8" y="926.300" text-anchor="middle">04:00</text>
<text x="712.5" y="926.300" text-anchor="middle">05:00</text>
<text x="774.1" y="926.300" text-anchor="middle">06:00</text>
<text x="835.7" y="926.300" text-anchor="middle">07:00</text>
<text x="897.3" y="926.300" text-anchor="middle">08:00</text>
<text x="959.0" y="926.300" text-anchor="middle">09:00</text>
<text x="1020.6" y="926.300" text-anchor="middle">10:00</text>
<text x="1082.2" y="926.300" text-anchor="middle">11:00</text>
<text x="1143.9" y="926.300" text-anchor="middle">12:00</text>
<text x="1205.5" y="926.300" text-anchor="middle">13:00</text>
<text x="1267.1" y="926.300" text-anchor="middle">14:00</text>
<text x="1328.8" y="926.300" text-anchor="middle">15:00</text>
<text x="1390.4" y="926.300" text-anchor="middle">16:00</text>
<text x="1452.0" y="926.300" text-anchor="middle">17:00</text>
<text x="1513.6" y="926.300" text-anchor="middle">18:00</text>
<text x="1575.3" y="926.300" text-anchor="middle">19:00</text>
<text x="1636.9" y="926.300" text-anchor="middle">20:00</text>
<text x="1698.5" y="926.300" text-anchor="middle">21:00</text>
<text x="1760.2" y="926.300" text-anchor="middle">22:00</text>
<text x="1821.8" y="926.300" text-anchor="middle">23:00</text>
<text transform="translate(372,243) rotate(-90)" text-anchor="middle">Toestand</text>
<text transform="translate(372,586) rotate(-90)" text-anchor="middle">Vermogen (kW)</text>
<rect x="795.0" y="225.100" width="40" height="12" fill="#e4e4e4" stroke="#fcb62b" stroke-width="2"/>
<text x="841.0" y="234.300">Zonnepanelen</text>
<rect x="927.5" y="225.100" width="40" height="12" fill="#e4e4e4" stroke="#4fc5f6" stroke-width="2"/>
<text x="973.5" y="234.300">Huis</text>
<rect x="1007.5" y="225.100" width="40" height="12" fill="#e4e4e4" stroke="#c9310e" stroke-width="2"/>
<text x="1053.5" y="234.300">Net</text>
<rect x="1082.0" y="225.100" width="40" height="12" fill="#e4e4e4" stroke="#109485" stroke-width="2"/>
<text x="1128.0" y="234.300">Thuisbatterij</text>
<rect x="1203.0" y="225.100" width="40" height="12" fill="#e4e4e4" stroke="#d3d3d3" stroke-width="2"/>
<text x="1249.0" y="234.300">Laadpaal</text>
<rect x="1308.5" y="225.100" width="40" height="12" fill="#e4e4e4" stroke="#3c4043" stroke-width="2"/>
<text x="1354.5" y="234.300" text-decoration="line-through">Controlesignalen</text>
</svg>
<div class="red" id="r3" style="left:759.200px;top:193.700px">3</div>
<div class="red" id="r4" style="left:1535.700px;top:225.200px">4</div>

<div id="ftl"></div>
<div id="priv">Privacyverklaring</div>
<svg class="abs" style="left:1852px;top:1055px" width="17" height="17" viewBox="0 0 24 24" fill="#7f2082"><path d="M12.870 15.070l-2.540-2.510.03-.03c1.740-1.940 2.980-4.170 3.710-6.530H17V4h-7V2H8v2H1v1.990h11.170C11.500 7.920 10.440 9.750 9 11.350 8.070 10.320 7.300 9.190 6.690 8h-2c.73 1.630 1.730 3.170 2.980 4.560l-5.090 5.020L4 19l5-5 3.110 3.110.76-2.040zM18.500 10h-2L12 22h2l1.120-3h4.750L21 22h2l-4.500-12zm-2.620 7l1.620-4.330L19.120 17h-3.240z"/></svg>
<div id="lang">nl</div>
<svg class="abs" style="left:1892px;top:1063px" width="8" height="4" viewBox="0 0 8 4" fill="#7f2082"><path d="M0 0h8L4 4z"/></svg>

</body>
</html>
